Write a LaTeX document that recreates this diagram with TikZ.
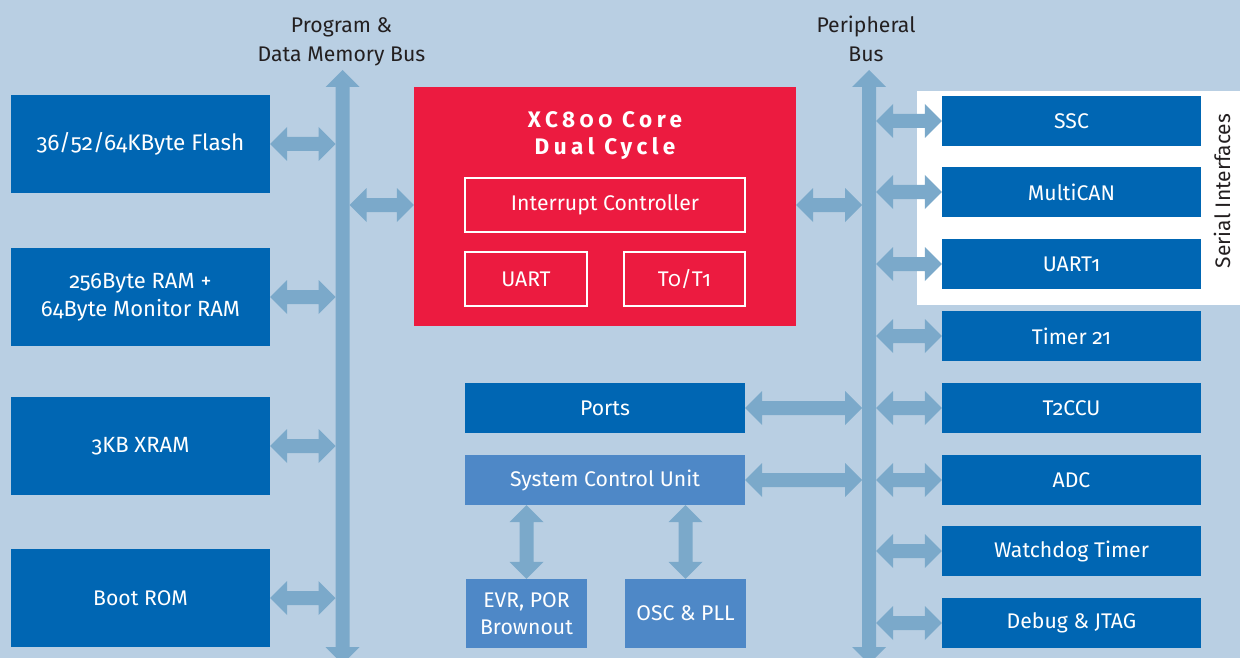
\documentclass[tikz,border=0pt]{standalone}
\usepackage{fontspec}
\setmainfont{Fira Sans}[Numbers=OldStyle]
\usetikzlibrary{calc}
\definecolor{bgc}{HTML}{B9CFE3}
\definecolor{busc}{HTML}{7BA9CA}
\definecolor{dblue}{HTML}{0066B3}
\definecolor{lblue}{HTML}{4E88C7}
\definecolor{corered}{HTML}{EC1B40}
\definecolor{labc}{HTML}{231F20}
% horizontal fat double arrow: #1 left end, #2 right end
\newcommand{\harrow}[2]{%
  \fill[busc] #1 -- ++(17,-17) -- ++(0,10) -- ($#2+(-17,-7)$) -- ++(0,-10) -- #2
    -- ++(-17,17) -- ++(0,-10) -- ($#1+(17,7)$) -- ++(0,10) -- cycle;}
% vertical fat double arrow: #1 top end, #2 bottom end
\newcommand{\varrow}[2]{%
  \fill[busc] #1 -- ++(17,17) -- ++(-10,0) -- ($#2+(7,-17)$) -- ++(10,0) -- #2
    -- ++(-17,-17) -- ++(10,0) -- ($#1+(-7,17)$) -- ++(-10,0) -- cycle;}
\tikzset{
  every node/.style={font=\fontsize{21.2}{27}\selectfont},
  lbox/.style={rectangle, fill=dblue, text=white, inner sep=0pt, align=center,
    minimum width=259, minimum height=98},
  rbox/.style={rectangle, fill=dblue, text=white, inner sep=0pt, align=center,
    minimum width=259, minimum height=50},
  mbox/.style={rectangle, fill=#1, text=white, inner sep=0pt, align=center},
  corebox/.style={rectangle, draw=white, line width=1.5pt, text=white, inner sep=0pt},
  lab/.style={text=labc, anchor=base, inner sep=0pt},
}
\begin{document}
\begin{tikzpicture}[x=1pt,y=-1pt]
\useasboundingbox (0,0) rectangle (1240,658);
\fill[bgc] (0,0) rectangle (1240,658);
% serial interfaces panel
\fill[white] (917,91) rectangle (1240,305);
\node[rotate=90, text=labc, inner sep=0pt, font=\fontsize{21}{25}\selectfont] (serlab) at (1222,191) {Serial Interfaces};

% bus labels
\node[lab] (pl1) at (341.5,33) {Program \&};
\node[lab] (pl2) at (341.5,62) {Data Memory Bus};
\node[lab] (bl1) at (866,33) {Peripheral};
\node[lab] (bl2) at (866,62) {Bus};

% buses
\coordinate (lbtop) at (342.5,70);
\coordinate (lbbot) at (342.5,664);
\coordinate (rbtop) at (869,70);
\coordinate (rbbot) at (869,664);
\varrow{(lbtop)}{(lbbot)}
\varrow{(rbtop)}{(rbbot)}
\coordinate (lbL) at (335.5,0);
\coordinate (lbR) at (349.5,0);
\coordinate (rbL) at (862,0);
\coordinate (rbR) at (876,0);

% left memory blocks
\node[lbox, font=\fontsize{22.5}{28}\selectfont] (flash) at (140.5,144) {36/52/64KByte Flash};
\node[lbox, font=\fontsize{22}{28}\selectfont] (ram) at (140.5,297) {256Byte RAM +\\64Byte Monitor RAM};
\node[lbox, font=\fontsize{22}{28}\selectfont] (xram) at (140.5,446) {3KB XRAM};
\node[lbox] (brom) at (140.5,598) {Boot ROM};

% core
\node[rectangle, fill=corered, minimum width=382, minimum height=239, inner sep=0pt] (core) at (605,206.5) {};
\node[text=white, align=center, inner sep=0pt, font=\fontsize{22.5}{27}\bfseries\addfontfeature{LetterSpace=20}] (coret) at (605,136) {XC800 Core\\Dual Cycle};
\node[corebox, minimum width=280, minimum height=54] (intc) at (605,205) {Interrupt Controller};
\node[corebox, minimum width=122, minimum height=54] (uart) at (526,279) {UART};
\node[corebox, minimum width=121, minimum height=54] (tt) at (684.5,279) {T0/T1};

% middle blocks
\node[mbox=dblue, minimum width=280, minimum height=50] (ports) at (605,408) {Ports};
\node[mbox=lblue, minimum width=280, minimum height=50] (scu) at (605,480) {System Control Unit};
\node[mbox=lblue, minimum width=121, minimum height=69] (evr) at (526.5,613.5) {EVR, POR\\Brownout};
\node[mbox=lblue, minimum width=121, minimum height=69] (osc) at (685.5,613.5) {OSC \& PLL};

% right peripherals
\node[rbox] (ssc) at (1071.5,121) {SSC};
\node[rbox] (mcan) at (1071.5,192) {MultiCAN};
\node[rbox] (uart1) at (1071.5,264) {UART1};
\node[rbox] (t21) at (1071.5,336) {Timer 21};
\node[rbox] (t2ccu) at (1071.5,408) {T2CCU};
\node[rbox] (adc) at (1071.5,480) {ADC};
\node[rbox] (wdt) at (1071.5,551) {Watchdog Timer};
\node[rbox] (dbg) at (1071.5,623) {Debug \& JTAG};

% connectors to program/data bus
\harrow{(flash.east)}{(flash.east -| lbL)}
\harrow{(ram.east)}{(ram.east -| lbL)}
\harrow{(xram.east)}{(xram.east -| lbL)}
\harrow{(brom.east)}{(brom.east -| lbL)}
\harrow{(core.west |- intc.center -| lbR)}{(core.west |- intc.center)}
% core to peripheral bus
\harrow{(core.east |- intc.center)}{(core.east |- intc.center -| rbL)}
\harrow{(ports.east)}{(ports.east -| rbL)}
\harrow{(scu.east)}{(scu.east -| rbL)}
% peripheral bus to peripherals
\foreach \n in {ssc,mcan,uart1,t21,t2ccu,adc,wdt,dbg}{
  \harrow{(\n.west -| rbR)}{(\n.west)}
}
% system control unit to EVR / OSC
\varrow{(scu.south -| evr.north)}{(evr.north)}
\varrow{(scu.south -| osc.north)}{(osc.north)}
\end{tikzpicture}
\end{document}
